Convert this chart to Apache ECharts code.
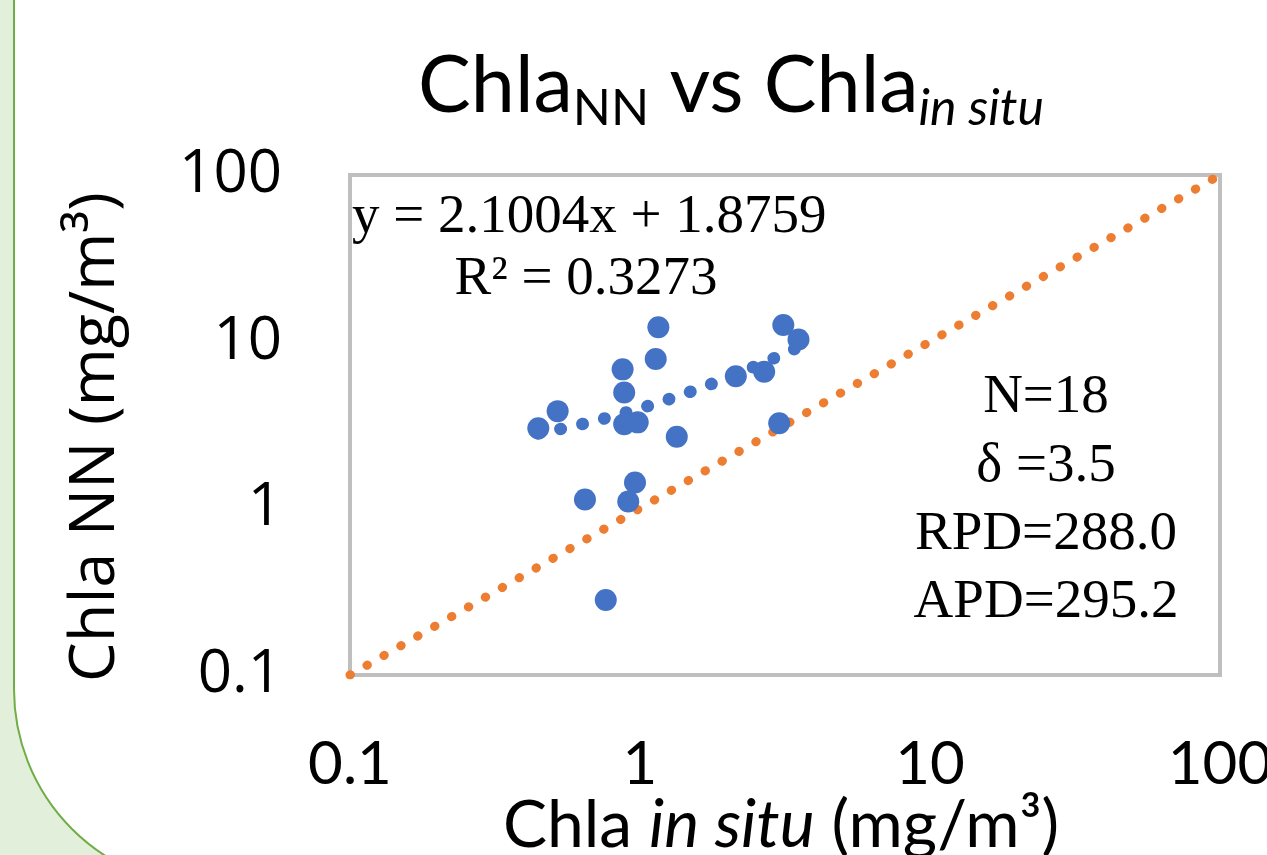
<!DOCTYPE html>
<html>
<head>
<meta charset="utf-8">
<script src="https://cdn.jsdelivr.net/npm/echarts@6/dist/echarts.min.js"></script>
<style>
html,body{margin:0;padding:0;background:#E2EFDA;}
#c{width:1267px;height:855px;}
</style>
</head>
<body>
<div id="c"></div>
<script>
// ---- data ----
const insituX = [1.157, 1.133, 0.871, 0.882, 0.520, 0.446, 0.882, 0.982, 1.339, 3.12, 3.52, 2.14, 2.68, 3.02, 0.961, 0.646, 0.911, 0.762];
const nnY     = [12.2, 7.87, 6.82, 4.96, 3.83, 3.02, 3.20, 3.28, 2.69, 12.6, 10.3, 6.2, 6.6, 3.24, 1.43, 1.13, 1.10, 0.282];
const oneToOneX = [0.1, 100];
const oneToOneY = [0.1, 100];
const trendSlope = 2.1004;
const trendIntercept = 1.8759;
const axisTicks = [0.1, 1, 10, 100];
const eqLines = ['y = 2.1004x + 1.8759', 'R² = 0.3273'];
const statsLines = ['N=18', 'δ =3.5', 'RPD=288.0', 'APD=295.2'];

const scatterData = insituX.map((x, i) => [x, nnY[i]]);
const oneToOne = oneToOneX.map((x, i) => [x, oneToOneY[i]]);
const xMin = Math.min(...insituX), xMax = Math.max(...insituX);
const trendData = [];
const steps = 60;
for (let i = 0; i <= steps; i++) {
  const lx = Math.log10(xMin) + (Math.log10(xMax) - Math.log10(xMin)) * i / steps;
  const x = Math.pow(10, lx);
  trendData.push([x, trendSlope * x + trendIntercept]);
}

const fmt = v => String(parseFloat(Number(v).toPrecision(3)));

const chart = echarts.init(document.getElementById('c'), null, {renderer: 'canvas'});
const serif = '"Liberation Serif", "Times New Roman", serif';
const graphics = [
  {type: 'rect', z: -100, silent: true,
   shape: {x: 14, y: -300, width: 1500, height: 1187, r: [0, 0, 0, 198]},
   style: {fill: '#ffffff', stroke: '#70AD47', lineWidth: 2}},
  {type: 'text', x: 731, y: 40, z: 10,
   style: {
     text: '{a|Chla}{s|NN}{a| vs Chla}{si|in situ}',
     align: 'center', verticalAlign: 'top',
     rich: {
       a: {fontFamily: 'Lato', fontSize: 79, lineHeight: 94, verticalAlign: 'middle', fill: '#000'},
       s: {fontFamily: 'Lato', fontSize: 50, lineHeight: 50, verticalAlign: 'bottom', fill: '#000'},
       si: {fontFamily: 'Lato', fontStyle: 'italic', fontSize: 50, lineHeight: 50, verticalAlign: 'bottom', fill: '#000'}
     }
   }},
  {type: 'text', x: 96, y: 437, rotation: Math.PI / 2, z: 10,
   style: {text: 'Chla NN (mg/m³)', fontFamily: '"Open Sans"', fontSize: 63,
           align: 'center', verticalAlign: 'middle', fill: '#000'}},
  {type: 'text', x: 781, y: 826, z: 10,
   style: {
     text: '{a|Chla }{i|in situ}{a| (mg/m³)}',
     align: 'center', verticalAlign: 'middle',
     rich: {
       a: {fontFamily: 'Lato', fontSize: 66, fill: '#000'},
       i: {fontFamily: 'Lato', fontStyle: 'italic', fontSize: 66, fill: '#000'}
     }
   }},
  {type: 'text', x: 352, y: 218, z: 10,
   style: {text: eqLines[0], fontFamily: serif, fontSize: 55, align: 'left', verticalAlign: 'middle', fill: '#000'}},
  {type: 'text', x: 586, y: 280, z: 10,
   style: {text: eqLines[1], fontFamily: serif, fontSize: 55, align: 'center', verticalAlign: 'middle', fill: '#000'}}
];
statsLines.forEach((t, i) => {
  graphics.push({type: 'text', x: 1046, y: 398 + i * 68.3, z: 10,
    style: {text: t, fontFamily: serif, fontSize: 55, align: 'center', verticalAlign: 'middle', fill: '#000'}});
});

chart.setOption({
  animation: false,
  backgroundColor: 'transparent',
  grid: {left: 350, right: 47, top: 175, bottom: 180, show: true, borderColor: '#BFBFBF', borderWidth: 4,
         backgroundColor: 'transparent', containLabel: false, outerBoundsMode: 'none'},
  xAxis: {
    type: 'log', logBase: 10, min: axisTicks[0], max: axisTicks[axisTicks.length - 1],
    axisLine: {show: false}, axisTick: {show: false}, splitLine: {show: false}, minorTick: {show: false},
    axisLabel: {fontFamily: 'Lato', fontSize: 60, color: '#000', margin: 60, formatter: fmt, showMinLabel: true, showMaxLabel: true}
  },
  yAxis: {
    type: 'log', logBase: 10, min: axisTicks[0], max: axisTicks[axisTicks.length - 1],
    axisLine: {show: false}, axisTick: {show: false}, splitLine: {show: false},
    axisLabel: {fontFamily: '"Open Sans"', fontSize: 60, color: '#000', margin: 68, formatter: fmt, showMinLabel: true, showMaxLabel: true}
  },
  graphic: graphics,
  series: [
    {type: 'line', data: oneToOne, symbol: 'none', silent: true, z: 2,
     lineStyle: {color: '#ED7D31', width: 9, type: [0.5, 19], cap: 'round'}},
    {type: 'scatter', data: scatterData, symbol: 'circle', symbolSize: 22, z: 3,
     itemStyle: {color: '#4472C4', opacity: 1}},
    {type: 'line', data: trendData, symbol: 'none', silent: true, z: 4, smooth: false,
     lineStyle: {color: '#4472C4', width: 12.5, type: [0.5, 22], cap: 'round'}}
  ]
});
</script>
</body>
</html>
